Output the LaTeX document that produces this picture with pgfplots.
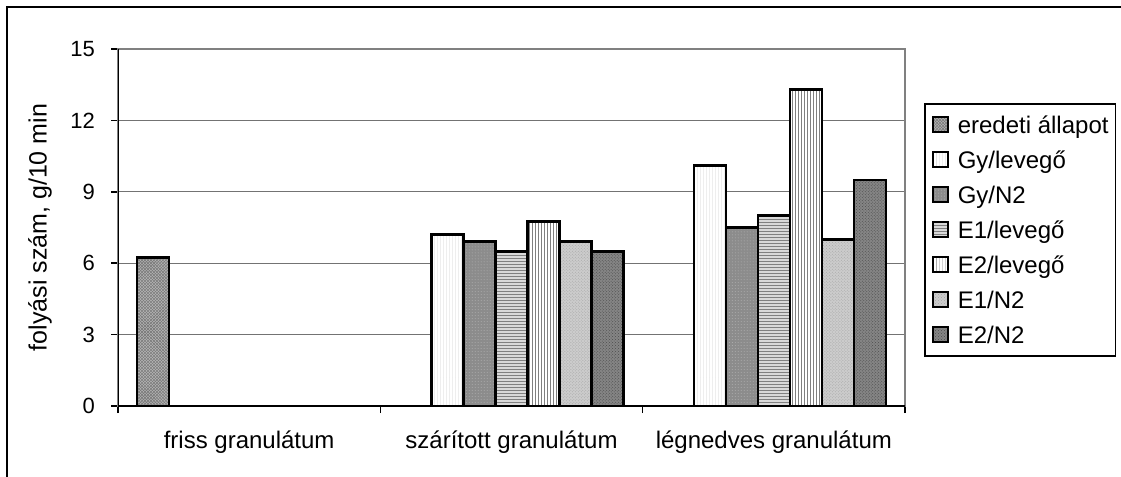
\documentclass[border=0pt]{standalone}
\usepackage{fontspec}
\setmainfont{Liberation Sans}
\usepackage{pgfplots}
\pgfplotsset{compat=1.18}
\usetikzlibrary{patterns}
\pgfplotsset{
  sq/.style={legend image code/.code={\draw[##1,line width=2bp] (0bp,-7bp) rectangle (15bp,8bp);}},
}
\begin{document}
\begin{tikzpicture}
\path[use as bounding box] (0,0) rectangle (1121bp,-477bp);
\draw[line width=2.5bp] (7bp,-7bp) rectangle (1140bp,-500bp);
\begin{axis}[
  scale only axis, width=787bp, height=357bp,
  at={(118bp,-406bp)}, anchor=south west,
  ybar=0pt, bar width=0.122,
  xmin=-0.5, xmax=2.5, ymin=0, ymax=15,
  xtick={-0.5,0.5,1.5,2.5}, xticklabels={},
  extra x ticks={0,1,2},
  extra x tick labels={friss granulátum, szárított granulátum, légnedves granulátum},
  extra x tick style={major tick length=0pt, xticklabel style={font=\fontsize{24bp}{24bp}\selectfont, anchor=base, inner sep=0pt, yshift=-42bp}},
  xtick pos=bottom, ytick pos=left,
  ytick={0,3,6,9,12,15},
  ymajorgrids, grid style={black!55, line width=1.1bp},
  tick align=outside, major tick length=7bp,
  tick style={black, line width=1.5bp},
  yticklabel style={font=\fontsize{22bp}{22bp}\selectfont, anchor=east, inner sep=0pt, xshift=-16bp},
  /pgf/number format/assume math mode=true,
  axis line style={draw=black!50, line width=1.8bp},
  ylabel={folyási szám, g/10 min},
  every axis y label/.style={at={(rel axis cs:0,0.5)}, xshift=-78bp, rotate=90, anchor=center, font=\fontsize{25bp}{25bp}\selectfont},
  legend style={at={(rel axis cs:1.024,0.849)}, anchor=north west, draw=black, line width=1.8bp,
    font=\fontsize{24bp}{24bp}\selectfont, row sep=11bp, column sep=9bp,
    inner xsep=7bp, inner ysep=9bp,
    nodes={inner sep=0pt, text height=21bp, text depth=3bp}},
  legend cell align=left,
]
\addplot[sq, draw=black, line width=2.6bp, fill=black!30, postaction={pattern=crosshatch, pattern color=black!55}]
  coordinates {(0,6.25)};
\addplot[sq, draw=black, line width=2.6bp, fill=white, postaction={pattern=vertical lines, pattern color=black!18}]
  coordinates {(1,7.2) (2,10.1)};
\addplot[sq, draw=black, line width=2.6bp, fill=black!45, postaction={pattern=dots, pattern color=black!30}]
  coordinates {(1,6.9) (2,7.5)};
\addplot[sq, draw=black, line width=2.6bp, fill=black!15, postaction={pattern=horizontal lines, pattern color=black!50}]
  coordinates {(1,6.5) (2,8.0)};
\addplot[sq, draw=black, line width=2.6bp, fill=white, postaction={pattern=vertical lines, pattern color=black!50}]
  coordinates {(1,7.75) (2,13.3)};
\addplot[sq, draw=black, line width=2.6bp, fill=black!20, postaction={pattern=crosshatch dots, pattern color=black!35}]
  coordinates {(1,6.9) (2,7.0)};
\addplot[sq, draw=black, line width=2.6bp, fill=black!48, postaction={pattern=crosshatch dots, pattern color=black!70}]
  coordinates {(1,6.5) (2,9.5)};
\legend{eredeti állapot, Gy/levegő, Gy/N2, E1/levegő, E2/levegő, E1/N2, E2/N2}
\draw[black, line width=2bp] (rel axis cs:0,1) -- (rel axis cs:0,0) -- (rel axis cs:1,0);
\end{axis}
\end{tikzpicture}
\end{document}
